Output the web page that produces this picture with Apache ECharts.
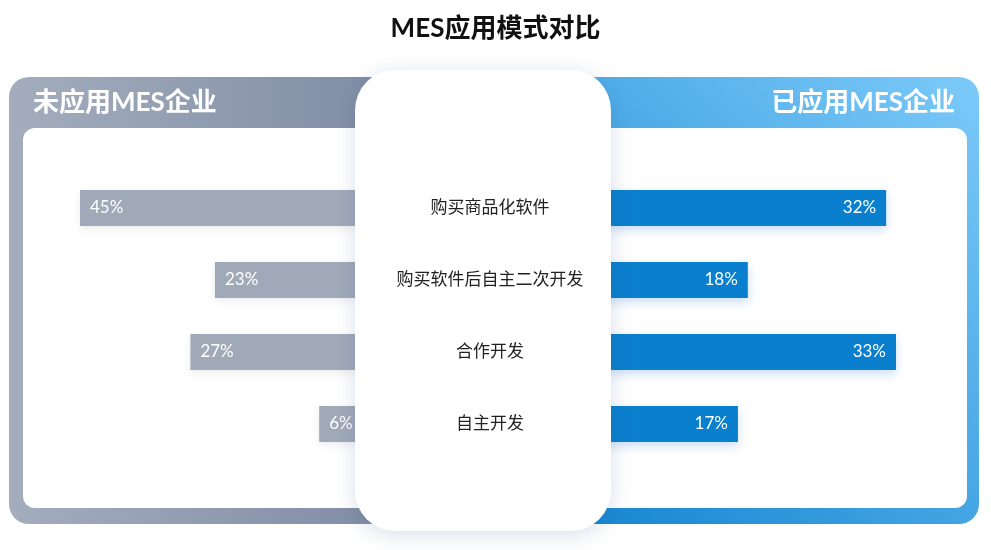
<!DOCTYPE html>
<html>
<head>
<meta charset="utf-8">
<script src="https://cdn.jsdelivr.net/npm/echarts@6/dist/echarts.min.js"></script>
<style>
html,body{margin:0;padding:0;background:#fff;}
#chart{width:991px;height:550px;}
</style>
</head>
<body>
<div id="chart"></div>
<script>
const chartTitle = 'MES应用模式对比';
const categories = ['购买商品化软件', '购买软件后自主二次开发', '合作开发', '自主开发'];
const groupNames = ['未应用MES企业', '已应用MES企业'];
const notApplied = [45, 23, 27, 6];
const applied = [32, 18, 33, 17];

const FONT = "Lato, 'Noto Sans CJK SC', sans-serif";
const chart = echarts.init(document.getElementById('chart'));

const option = {
  backgroundColor: '#ffffff',
  animation: false,
  title: {
    text: chartTitle,
    left: 'center',
    top: 11,
    textStyle: { fontSize: 26, fontWeight: 'bold', color: '#111', fontFamily: FONT }
  },
  grid: [
    { left: 80, width: 276, top: 172, height: 288 },
    { left: 570, width: 326, top: 172, height: 288 }
  ],
  xAxis: [
    { type: 'value', gridIndex: 0, inverse: true, min: 0, max: Math.max(...notApplied), show: false },
    { type: 'value', gridIndex: 1, min: 0, max: Math.max(...applied), show: false }
  ],
  yAxis: [
    { type: 'category', gridIndex: 0, inverse: true, data: categories, show: false },
    {
      type: 'category', gridIndex: 1, inverse: true, data: categories, z: 200,
      axisLine: { show: false }, axisTick: { show: false }, splitLine: { show: false },
      axisLabel: { align: 'center', margin: 80, fontSize: 17, color: '#222', fontFamily: FONT }
    }
  ],
  graphic: [
    {
      type: 'rect', z: 0,
      shape: { x: 9, y: 77, width: 420, height: 447, r: 20 },
      style: {
        fill: new echarts.graphic.LinearGradient(0, 0, 1, 0, [
          { offset: 0, color: '#a3adbd' },
          { offset: 1, color: '#7c89a2' }
        ])
      }
    },
    {
      type: 'rect', z: 1,
      shape: { x: 23, y: 128, width: 420, height: 380, r: 12 },
      style: { fill: '#ffffff' }
    },
    {
      type: 'rect', z: 0,
      shape: { x: 560, y: 77, width: 419, height: 447, r: 20 },
      style: {
        fill: new echarts.graphic.LinearGradient(0, 1, 1, 0, [
          { offset: 0, color: '#1484d0' },
          { offset: 1, color: '#7ccaf9' }
        ])
      }
    },
    {
      type: 'rect', z: 1,
      shape: { x: 560, y: 128, width: 407, height: 380, r: 12 },
      style: { fill: '#ffffff' }
    },
    {
      type: 'rect', z: 100,
      shape: { x: 355, y: 70, width: 256, height: 461, r: 40 },
      style: {
        fill: '#ffffff',
        shadowBlur: 22, shadowColor: 'rgba(40,70,130,0.18)', shadowOffsetY: 4
      }
    },
    {
      type: 'text', z: 5,
      style: {
        text: groupNames[0], x: 33, y: 103, verticalAlign: 'middle', align: 'left',
        font: "bold 26px " + FONT, fill: '#ffffff'
      }
    },
    {
      type: 'text', z: 5,
      style: {
        text: groupNames[1], x: 955, y: 103, verticalAlign: 'middle', align: 'right',
        font: "bold 26px " + FONT, fill: '#ffffff'
      }
    }
  ],
  series: [
    {
      name: groupNames[0], type: 'bar', xAxisIndex: 0, yAxisIndex: 0, z: 10,
      data: notApplied, barWidth: 36,
      itemStyle: { color: '#a0a9b8', shadowBlur: 8, shadowColor: 'rgba(100,110,130,0.12)', shadowOffsetY: 3 },
      label: {
        show: true, position: 'insideLeft', distance: 10, formatter: '{c}%',
        color: '#ffffff', fontSize: 17, fontFamily: FONT
      }
    },
    {
      name: groupNames[1], type: 'bar', xAxisIndex: 1, yAxisIndex: 1, z: 10,
      data: applied, barWidth: 36,
      itemStyle: { color: '#0a7fcd', shadowBlur: 10, shadowColor: 'rgba(10,100,190,0.22)', shadowOffsetY: 4 },
      label: {
        show: true, position: 'insideRight', distance: 10, formatter: '{c}%',
        color: '#ffffff', fontSize: 17, fontFamily: FONT
      }
    }
  ]
};
chart.setOption(option);
</script>
</body>
</html>
